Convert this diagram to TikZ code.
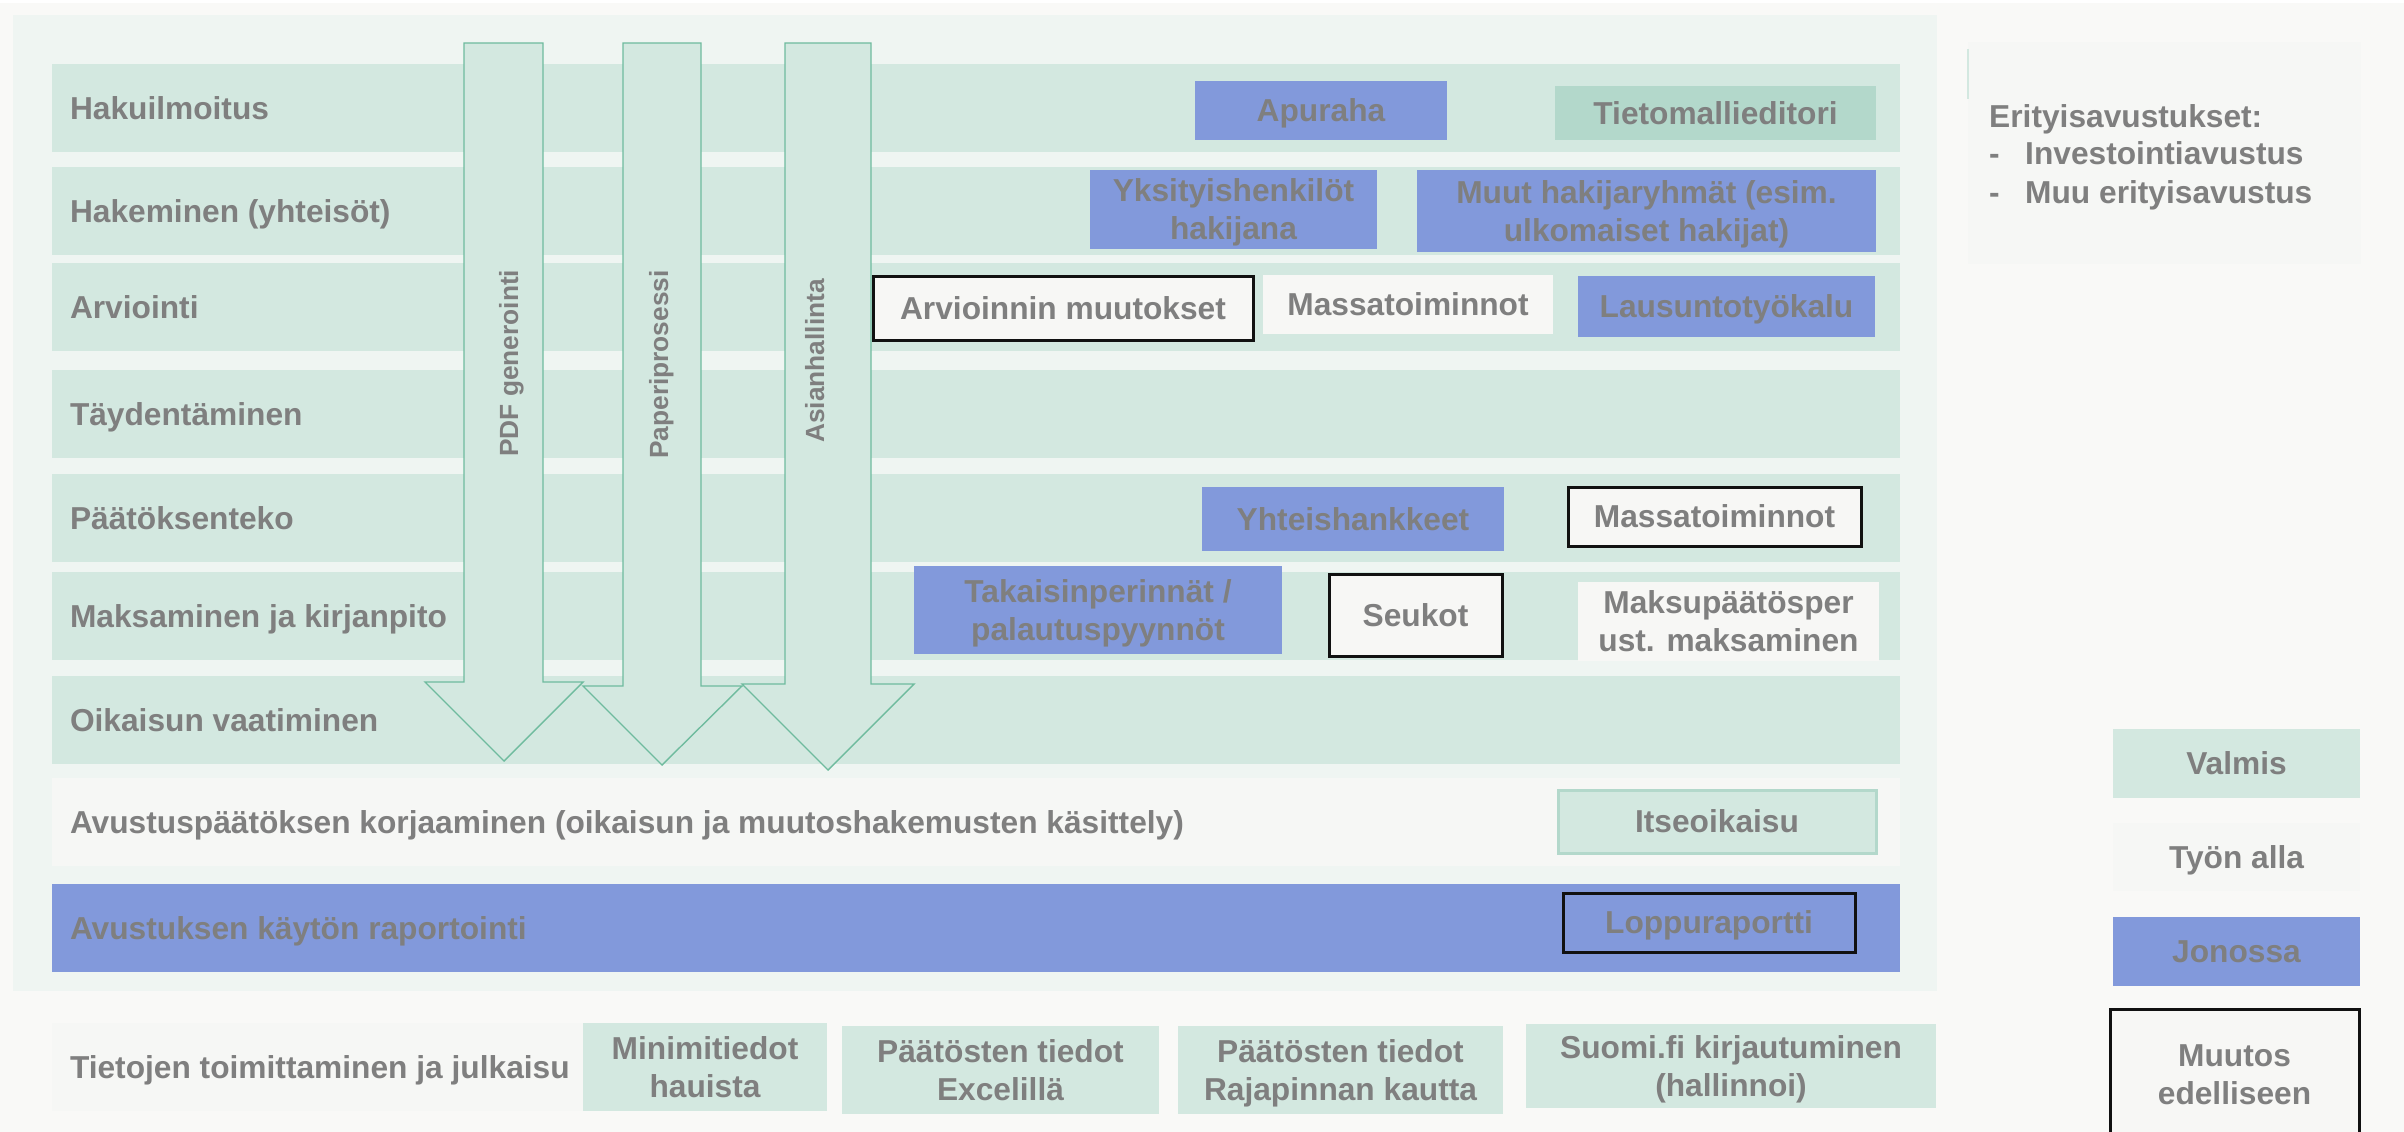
\documentclass[tikz,border=0pt]{standalone}
\usepackage{fontspec}
\setmainfont{Liberation Sans}
\definecolor{bgc}{HTML}{F9F9F7}
\definecolor{panelc}{HTML}{EFF5F2}
\definecolor{mint}{HTML}{D3E8E0}
\definecolor{dmint}{HTML}{B3D8CB}
\definecolor{bluec}{HTML}{8299DB}
\definecolor{wipc}{HTML}{F6F7F5}
\definecolor{whc}{HTML}{F7F7F5}
\definecolor{arrc}{HTML}{6FBB9E}
\definecolor{tgray}{HTML}{7F7F7F}
\definecolor{blk}{HTML}{111111}
\tikzset{
  lbl/.style={font=\bfseries\fontsize{31.7}{38}\selectfont, text=tgray, inner sep=0pt,
    text height=22.7pt, text depth=0pt, align=center},
  two/.style={text height=60.7pt},
  plain/.style={font=\bfseries\fontsize{31.7}{38}\selectfont, text=tgray, inner sep=0pt},
  alabel/.style={font=\bfseries\fontsize{26.3}{30}\selectfont, text=tgray, inner sep=0pt},
  bx/.style={lbl, rectangle},
  barbox/.style={rectangle, inner sep=0pt},
  fmint/.style={fill=mint},
  fblue/.style={fill=bluec},
  fdmint/.style={fill=dmint},
  fwip/.style={fill=wipc},
  fwhite/.style={fill=whc},
  blackframe/.style={draw=blk, line width=3pt},
  arrowshape/.style={fill=mint, draw=arrc, line width=1.4pt, line join=miter},
}
\newcommand\mkbox[7]{%
  \node[bx, #6, minimum width={(#4-#2)*1pt}, minimum height={(#5-#3)*1pt}]
    (#1) at ({(#2+#4)/2},{(#3+#5)/2}) {#7};}
\newcommand\mkbar[5]{%
  \node[barbox, #4, minimum width={(1900-52)*1pt}, minimum height={(#3-#2)*1pt}]
    (#1) at ({(52+1900)/2},{(#2+#3)/2}) {};
  \node[lbl, anchor=west] (#1t) at ([xshift=18pt]#1.west) {#5};}
\begin{document}
\begin{tikzpicture}[x=1pt,y=-1pt]
\useasboundingbox (0,0) rectangle (2404,1132);
\fill[bgc] (0,0) rectangle (2404,1132);
\fill[white] (0,0) rectangle (2404,3);
% main panel
\fill[panelc] (13,15) rectangle (1937,991);
% rows
\mkbar{r1}{64}{152}{fmint}{Hakuilmoitus}
\mkbar{r2}{167}{255}{fmint}{Hakeminen (yhteisöt)}
\mkbar{r3}{263}{351}{fmint}{Arviointi}
\mkbar{r4}{370}{458}{fmint}{Täydentäminen}
\mkbar{r5}{474}{562}{fmint}{Päätöksenteko}
\mkbar{r6}{572}{660}{fmint}{Maksaminen ja kirjanpito}
\mkbar{r7}{676}{764}{fmint}{Oikaisun vaatiminen}
\mkbar{r8}{778}{866}{fwip}{Avustuspäätöksen korjaaminen (oikaisun ja muutoshakemusten käsittely)}
\mkbar{r9}{884}{972}{fblue}{Avustuksen käytön raportointi}
% big arrows
\draw[arrowshape] (464,43) -- (543,43) -- (543,682) -- (583,682) -- (504,761) -- (425,682) -- (464,682) -- cycle;
\draw[arrowshape] (623,43) -- (701,43) -- (701,686) -- (742,686) -- (662,765) -- (583,686) -- (623,686) -- cycle;
\draw[arrowshape] (785,43) -- (871,43) -- (871,684) -- (914,684) -- (828,770) -- (742,684) -- (785,684) -- cycle;
\node[alabel, rotate=90, anchor=base west] (pdf) at (518,457) {PDF generointi};
\node[alabel, rotate=90, anchor=base west] (pap) at (668,459) {Paperiprosessi};
\node[alabel, rotate=90, anchor=base west] (asi) at (824,443) {Asianhallinta};
% boxes in rows
\mkbox{apu}{1195}{81}{1447}{140}{fblue}{Apuraha}
\mkbox{tieto}{1555}{86}{1876}{140}{fdmint}{Tietomallieditori}
\mkbox{yks}{1090}{170}{1377}{249}{fblue,two}{Yksityishenkilöt\\hakijana}
\mkbox{muut}{1417}{170}{1876}{252}{fblue,two}{Muut hakijaryhmät (esim.\\ulkomaiset hakijat)}
\mkbox{armu}{873}{276}{1253}{340}{fwhite,blackframe}{Arvioinnin muutokset}
\mkbox{masa}{1263}{275}{1553}{334}{fwhite}{Massatoiminnot}
\mkbox{laus}{1578}{276}{1875}{337}{fblue}{Lausuntotyökalu}
\mkbox{yht}{1202}{487}{1504}{551}{fblue}{Yhteishankkeet}
\mkbox{masb}{1568}{487}{1861}{546}{fwhite,blackframe}{Massatoiminnot}
\mkbox{taka}{914}{566}{1282}{654}{fblue,two}{Takaisinperinnät /\\palautuspyynnöt}
\mkbox{seuk}{1329}{574}{1502}{656}{fwhite,blackframe}{Seukot}
\mkbox{maks}{1578}{582}{1879}{661}{fwhite,two}{Maksupäätösper\\ust. maksaminen}
\mkbox{itse}{1558}{790}{1876}{853}{fmint,draw=dmint,line width=3pt}{Itseoikaisu}
\mkbox{lopp}{1563}{893}{1855}{952}{fblue,blackframe}{Loppuraportti}
% bottom row
\node[barbox, fwip, minimum width={(583-52)*1pt}, minimum height=88pt] (tj) at ({(52+583)/2},1067) {};
\node[lbl, anchor=west] (tjt) at ([xshift=18pt]tj.west) {Tietojen toimittaminen ja julkaisu};
\mkbox{mini}{583}{1023}{827}{1111}{fmint,two}{Minimitiedot\\hauista}
\mkbox{exc}{842}{1026}{1159}{1114}{fmint,two}{Päätösten tiedot\\Excelillä}
\mkbox{raj}{1178}{1026}{1503}{1114}{fmint,two}{Päätösten tiedot\\Rajapinnan kautta}
\mkbox{suomi}{1526}{1024}{1936}{1108}{fmint,two}{Suomi.fi kirjautuminen\\(hallinnoi)}
% Erityisavustukset panel
\node[barbox, fill=wipc, minimum width={(2361-1968)*1pt}, minimum height={(264-42)*1pt}] (eri) at ({(1968+2361)/2},{(42+264)/2}) {};
\draw[mint, line width=2pt] (1968,49) -- (1968,99);
\node[plain, anchor=base west] (erit) at (1989,127) {Erityisavustukset:};
\node[plain, anchor=base west] (d1) at (1989,164) {-};
\node[plain, anchor=base west] (i1) at (2025,164) {Investointiavustus};
\node[plain, anchor=base west] (d2) at (1989,203) {-};
\node[plain, anchor=base west] (i2) at (2025,203) {Muu erityisavustus};
% legend
\mkbox{lgv}{2113}{729}{2360}{798}{fmint}{Valmis}
\mkbox{lgt}{2113}{823}{2360}{891}{fill=wipc}{Työn alla}
\mkbox{lgj}{2113}{917}{2360}{986}{fblue}{Jonossa}
\mkbox{lgm}{2110}{1009}{2359}{1140}{fwhite,blackframe,two}{Muutos\\edelliseen}
\end{tikzpicture}
\end{document}
